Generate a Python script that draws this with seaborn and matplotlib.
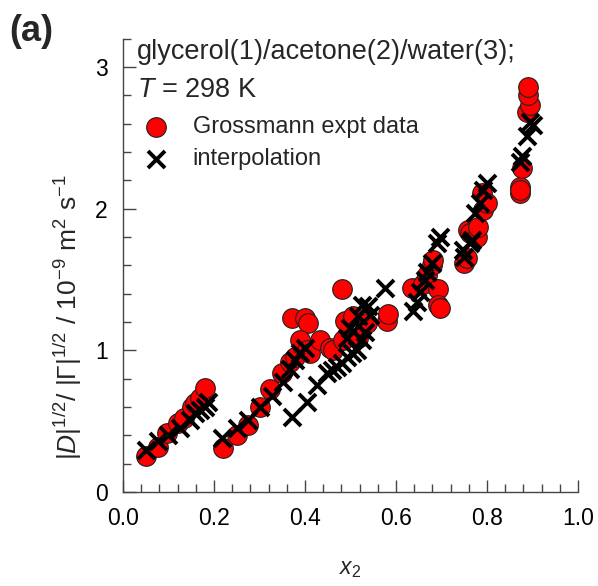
import matplotlib
matplotlib.use("Agg")
import matplotlib.pyplot as plt
import seaborn as sns
import pandas as pd
from matplotlib.ticker import MultipleLocator

sns.set_style("white")
plt.rcParams['font.family'] = ['Liberation Sans', 'DejaVu Sans']
plt.rcParams['mathtext.fontset'] = 'custom'
plt.rcParams['mathtext.rm'] = 'Liberation Sans'
plt.rcParams['mathtext.it'] = 'Liberation Sans:italic'
plt.rcParams['mathtext.bf'] = 'Liberation Sans:bold'

# Grossmann experimental data
expt_x = [0.051, 0.077, 0.097, 0.121, 0.134, 0.152, 0.158, 0.169, 0.180,
          0.220, 0.250, 0.275, 0.300, 0.323, 0.350, 0.367, 0.378, 0.393,
          0.371, 0.400, 0.407, 0.389, 0.404, 0.410, 0.433, 0.455, 0.462,
          0.484, 0.488, 0.481, 0.505, 0.516, 0.536, 0.580, 0.582,
          0.635, 0.659, 0.668, 0.679, 0.681, 0.692, 0.692, 0.697,
          0.749, 0.756, 0.758, 0.763, 0.778, 0.780, 0.789, 0.791, 0.800,
          0.873, 0.873, 0.873, 0.877, 0.888, 0.895, 0.890, 0.890]
expt_y = [0.254, 0.318, 0.416, 0.487, 0.522, 0.600, 0.628, 0.663, 0.734,
          0.310, 0.400, 0.470, 0.600, 0.730, 0.840, 0.920, 0.950, 1.040,
          1.230, 1.230, 1.190, 1.070, 1.000, 0.980, 1.070, 1.020, 1.000,
          1.070, 1.210, 1.430, 1.240, 1.090, 1.190, 1.210, 1.260,
          1.440, 1.470, 1.530, 1.600, 1.640, 1.430, 1.320, 1.300,
          1.620, 1.650, 1.850, 1.830, 1.800, 1.870, 2.110, 1.990, 2.040,
          2.150, 2.110, 2.130, 2.290, 2.680, 2.730, 2.800, 2.860]

# interpolation
interp_x = [0.051, 0.077, 0.099, 0.125, 0.147, 0.158, 0.169, 0.180, 0.187,
            0.218, 0.250, 0.275, 0.300, 0.327, 0.352, 0.367, 0.378, 0.389, 0.400,
            0.371, 0.404, 0.426, 0.448, 0.459, 0.470, 0.481, 0.492, 0.503, 0.514, 0.525,
            0.492, 0.499, 0.506, 0.517, 0.525, 0.532, 0.538, 0.543, 0.576,
            0.637, 0.646, 0.653, 0.664, 0.668, 0.679, 0.690, 0.697,
            0.747, 0.749, 0.763, 0.767, 0.774, 0.785, 0.791, 0.800,
            0.873, 0.877, 0.888, 0.895, 0.900]
interp_y = [0.296, 0.360, 0.402, 0.452, 0.508, 0.557, 0.579, 0.600, 0.635,
            0.380, 0.450, 0.510, 0.600, 0.680, 0.780, 0.870, 0.930, 0.980, 1.020,
            0.530, 0.635, 0.755, 0.840, 0.860, 0.880, 0.910, 0.950, 0.980, 1.000, 1.070,
            1.090, 1.160, 1.140, 1.240, 1.320, 1.130, 1.310, 1.250, 1.440,
            1.280, 1.340, 1.410, 1.500, 1.550, 1.620, 1.760, 1.800,
            1.710, 1.660, 1.760, 1.780, 1.970, 2.040, 2.130, 2.180,
            2.330, 2.370, 2.510, 2.610, 2.590]

df_e = pd.DataFrame({"x": expt_x, "y": expt_y})
df_i = pd.DataFrame({"x": interp_x, "y": interp_y})

fig = plt.figure(figsize=(5.98, 5.86), dpi=100)
ax = fig.add_axes([0.2057, 0.1604, 0.7609, 0.7736])

sns.scatterplot(data=df_e, x="x", y="y", ax=ax, marker="o", s=200,
                color="#ff0000", edgecolor="#202020", linewidth=0.8,
                label="Grossmann expt data", zorder=3)
sns.scatterplot(data=df_i, x="x", y="y", ax=ax, marker="x", s=150,
                color="black", linewidth=2.8,
                label="interpolation", zorder=4)

ax.set_xlim(0, 1.0)
ax.set_ylim(0, 3.2)
ax.xaxis.set_major_locator(MultipleLocator(0.2))
ax.xaxis.set_minor_locator(MultipleLocator(0.04))
ax.yaxis.set_major_locator(MultipleLocator(1))
ax.yaxis.set_minor_locator(MultipleLocator(0.2))
ax.xaxis.set_major_formatter(matplotlib.ticker.FormatStrFormatter('%.1f'))

for s in ['top', 'right']:
    ax.spines[s].set_visible(False)
for s in ['left', 'bottom']:
    ax.spines[s].set_color('#444444')
    ax.spines[s].set_linewidth(1.0)

ax.tick_params(which='both', direction='in', color='#444444', labelsize=16.5,
               bottom=True, left=True, labelcolor='black')
ax.tick_params(which='major', length=9, width=1.0)
ax.tick_params(axis='y', which='major', pad=11)
ax.tick_params(axis='x', which='major', pad=11)
ax.tick_params(which='minor', length=6, width=1.0)

ax.set_xlabel(r'$x_2$', fontsize=16.5, labelpad=19)
ax.set_ylabel(r'$|D|^{1/2}$/ $|\mathrm{\Gamma}|^{1/2}$ / 10$^{-9}$ m$^2$ s$^{-1}$',
              fontsize=19)
ax.yaxis.set_label_coords(-0.085, 0.385)

ax.text(0.03, 1.0, 'glycerol(1)/acetone(2)/water(3);', transform=ax.transAxes,
        fontsize=19.5, va='top', ha='left')
ax.text(0.03, 0.915, r'$T$ = 298 K', transform=ax.transAxes,
        fontsize=19.5, va='top', ha='left')

ax.legend(loc='upper left', bbox_to_anchor=(-0.01, 0.86), frameon=False,
          fontsize=17, handletextpad=0.55, labelspacing=0.4, borderaxespad=0.2)

fig.text(0.015, 0.947, '(a)', fontsize=26, fontweight='bold', ha='left', va='center')

fig.savefig("out.png", dpi=100)
